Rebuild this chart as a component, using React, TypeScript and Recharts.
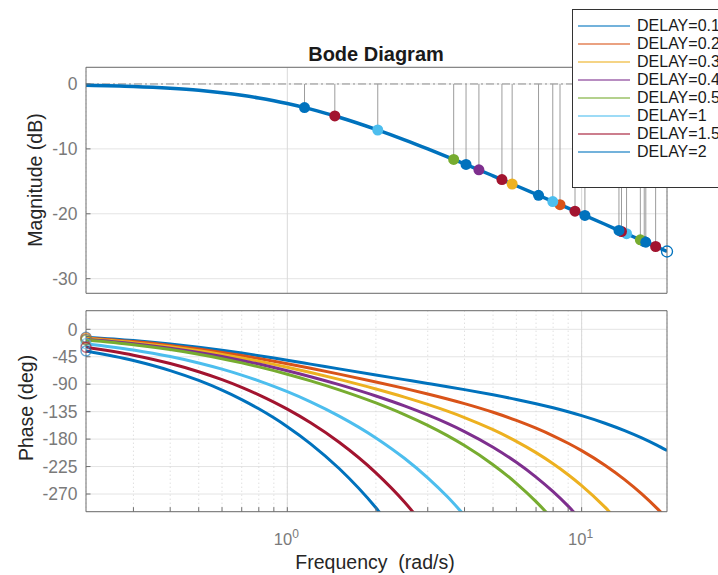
import {
  CartesianGrid,
  ComposedChart,
  ErrorBar,
  Line,
  LineChart,
  ReferenceDot,
  ReferenceLine,
  Scatter,
  XAxis,
  YAxis,
} from "recharts";

const FONT = '"Liberation Sans", Arial, Helvetica, sans-serif';

// frequency grid, rad/s
const freqs = [
  0.207, 0.3, 0.4, 0.5, 0.6, 0.7, 0.8, 0.9, 1, 1.2, 1.5, 2, 2.5, 3, 3.5, 4, 5, 6, 7, 8, 9, 10, 12, 14, 16, 18, 19.5,
];

// magnitude is the same for every delay
const magnitudeDb = [
  -0.18, -0.37, -0.65, -0.97, -1.34, -1.73, -2.15, -2.58, -3.01, -3.87, -5.12, -6.99, -8.6, -10.0, -11.22, -12.3,
  -14.15, -15.68, -16.99, -18.13, -19.14, -20.04, -21.61, -22.95, -24.1, -25.12, -25.81,
];

const delayLabels = [
  "DELAY=0.1", "DELAY=0.2", "DELAY=0.3", "DELAY=0.4", "DELAY=0.5", "DELAY=1", "DELAY=1.5", "DELAY=2",
];
const delayColors = ["#0072BD", "#D95319", "#EDB120", "#7E2F8E", "#77AC30", "#4DBEEE", "#A2142F", "#0072BD"];

// phase (deg); each curve stops once it has left the axes
const phase01 = [
  -12.88, -18.42, -24.09, -29.43, -34.4, -39.0, -43.24, -47.15, -50.73, -57.07, -64.9, -74.89, -82.52, -88.76,
  -94.1, -98.88, -107.34, -114.92, -121.98, -128.71, -135.23, -141.59, -153.99, -166.12, -178.09, -189.95, -198.79,
];
const phase02 = [
  -14.06, -20.14, -26.38, -32.3, -37.84, -43.01, -47.83, -52.3, -56.46, -63.94, -73.5, -86.35, -96.85, -105.95,
  -114.16, -121.8, -135.99, -149.29, -162.08, -174.54, -186.79, -198.88, -222.75, -246.34, -269.77, -293.08, -310.52,
];
const phase03 = [
  -15.25, -21.86, -28.68, -35.16, -41.27, -47.02, -52.41, -57.46, -62.19, -70.82, -82.09, -97.81, -111.17, -123.14,
  -134.21, -144.71, -164.63, -183.67, -202.19, -220.38, -238.36, -256.18, -291.5, -326.55,
];
const phase04 = [
  -16.43, -23.58, -30.97, -38.03, -44.71, -51.03, -57.0, -62.62, -67.92, -77.69, -90.69, -109.27, -125.5, -140.32,
  -154.26, -167.63, -193.28, -218.05, -242.3, -266.22, -289.92, -313.47,
];
const phase05 = [
  -17.62, -25.29, -33.26, -40.89, -48.15, -55.04, -61.58, -67.77, -73.65, -84.57, -99.28, -120.73, -139.82, -157.51,
  -174.32, -190.55, -221.93, -252.43, -282.41, -312.05,
];
const phase1 = [
  -23.55, -33.89, -44.72, -55.22, -65.34, -75.1, -84.5, -93.56, -102.3, -118.94, -142.25, -178.02, -211.44, -243.46,
  -274.59, -305.14,
];
const phase15 = [
  -29.48, -42.48, -56.18, -69.54, -82.53, -95.15, -107.41, -119.34, -130.94, -153.32, -185.23, -235.32, -283.06,
  -329.4,
];
const phase2 = [
  -35.41, -51.08, -67.64, -83.87, -99.71, -115.2, -130.33, -145.12, -159.59, -187.7, -228.2, -292.61, -354.68,
];
const phaseCurves = [phase01, phase02, phase03, phase04, phase05, phase1, phase15, phase2];

// gain-margin points (phase crossing -180, -540, ...) for each delay
const gmFreq01 = [16.32];
const gmMag01 = [-24.27];
const gmFreq02 = [8.443];
const gmMag02 = [-18.59];
const gmFreq03 = [5.806];
const gmMag03 = [-15.41];
const gmFreq04 = [4.477];
const gmMag04 = [-13.23];
const gmFreq05 = [3.675, 15.83];
const gmMag05 = [-11.62, -24.01];
const gmFreq1 = [2.029, 7.979, 14.21];
const gmMag1 = [-7.09, -18.11, -23.07];
const gmFreq15 = [1.45, 5.36, 9.495, 13.66, 17.84];
const gmMag15 = [-4.92, -14.73, -19.6, -22.73, -25.04];
const gmFreq2 = [1.144, 4.048, 7.138, 10.26, 13.39, 16.52];
const gmMag2 = [-3.63, -12.4, -17.16, -20.26, -22.56, -24.38];
const gmFreqs = [gmFreq01, gmFreq02, gmFreq03, gmFreq04, gmFreq05, gmFreq1, gmFreq15, gmFreq2];
const gmMags = [gmMag01, gmMag02, gmMag03, gmMag04, gmMag05, gmMag1, gmMag15, gmMag2];

const xTicks = [0.3, 0.4, 0.5, 0.6, 0.7, 0.8, 0.9, 1, 2, 3, 4, 5, 6, 7, 8, 9, 10];
const magTicks = [0, -10, -20, -30];
const phaseTicks = [0, -45, -90, -135, -180, -225, -270];

const X_DOMAIN: [number, number] = [0.207, 19.5];
const MAG_DOMAIN: [number, number] = [-32.25, 2.57];
const PHASE_DOMAIN: [number, number] = [-299, 30.5];

const magRows = freqs.map((f, i) => ({ f, db: magnitudeDb[i] }));
const phaseRows = freqs.map((f, i) => {
  const row: Record<string, number> = { f };
  phaseCurves.forEach((p, k) => {
    if (i < p.length) row[`p${k}`] = p[i];
  });
  return row;
});
const markerSets = gmFreqs.map((fs, k) =>
  fs.map((f, j) => ({ f, db: gmMags[k][j], stem: [0, -gmMags[k][j]] }))
);

const axisStroke = "#6e6e6e";
const tickFont = { fill: "#7a7a7a", fontSize: 17.5, fontFamily: FONT };

// axes get a 1px band so they still render; the margins below absorb it
const xAxisBase = {
  dataKey: "f",
  type: "number" as const,
  scale: "log" as const,
  domain: X_DOMAIN,
  ticks: xTicks,
  allowDataOverflow: true,
  interval: 0 as const,
  stroke: axisStroke,
  tickSize: -4.5,
  height: 1,
};

const FreqTick = (props: any) => {
  const { x, y, payload } = props;
  const v = payload?.value;
  if (v !== 1 && v !== 10) return <g />;
  return (
    <text x={x - 1} y={y + 38} textAnchor="middle" fill="#7a7a7a" fontSize={16.5} fontFamily={FONT}>
      10
      <tspan dy={-7} fontSize={12}>
        {v === 1 ? "0" : "1"}
      </tspan>
    </text>
  );
};

export default function App() {
  return (
    <div
      style={{
        position: "absolute",
        left: 0,
        top: 0,
        width: 718,
        height: 575,
        overflow: "hidden",
        background: "#fff",
        fontFamily: FONT,
      }}
    >
      {/* magnitude */}
      <div style={{ position: "absolute", left: 0, top: 0 }}>
        <ComposedChart width={718} height={300} data={magRows} margin={{ top: 66.3, right: 50, bottom: 5.7, left: 85 }}>
          <CartesianGrid vertical={false} stroke="#e4e4e4" />
          <CartesianGrid horizontal={false} stroke="#d2d2d2" strokeDasharray="1 3" />
          <ReferenceLine x={1} stroke="#d9d9d9" />
          <ReferenceLine x={10} stroke="#d9d9d9" />
          <ReferenceLine y={0} stroke="#8f8f8f" strokeDasharray="8 3 2 3" />
          <XAxis {...xAxisBase} tick={false} />
          <XAxis {...xAxisBase} xAxisId="top" orientation="top" tick={false} />
          <YAxis
            domain={MAG_DOMAIN}
            ticks={magTicks}
            allowDataOverflow
            interval={0}
            width={1}
            stroke={axisStroke}
            tickSize={-4.5}
            tickMargin={13}
            tick={tickFont}
          />
          <YAxis
            yAxisId="right"
            orientation="right"
            domain={MAG_DOMAIN}
            ticks={magTicks}
            allowDataOverflow
            interval={0}
            width={1}
            stroke={axisStroke}
            tickSize={-4.5}
            tick={false}
          />
          <Line
            dataKey="db"
            type="monotone"
            stroke="#0072BD"
            strokeWidth={3.5}
            dot={false}
            activeDot={false}
            isAnimationActive={false}
          />
          {markerSets.map((set, k) => (
            <Scatter
              key={delayLabels[k]}
              data={set}
              dataKey="db"
              isAnimationActive={false}
              shape={(p: any) => <circle cx={p.cx} cy={p.cy} r={5.5} fill={delayColors[k]} />}
            >
              <ErrorBar dataKey="stem" direction="y" width={0} stroke="#9c9c9c" strokeWidth={1} />
            </Scatter>
          ))}
          <ReferenceDot
            x={freqs[freqs.length - 1]}
            y={magnitudeDb[magnitudeDb.length - 1]}
            r={5.5}
            fill="none"
            stroke="#0072BD"
            strokeWidth={1.3}
          />
        </ComposedChart>
      </div>

      {/* phase */}
      <div style={{ position: "absolute", left: 0, top: 300 }}>
        <LineChart width={718} height={275} data={phaseRows} margin={{ top: 9.7, right: 50, bottom: 62.3, left: 85 }}>
          <CartesianGrid vertical={false} stroke="#e4e4e4" />
          <CartesianGrid horizontal={false} stroke="#d2d2d2" strokeDasharray="1 3" />
          <ReferenceLine x={1} stroke="#d9d9d9" />
          <ReferenceLine x={10} stroke="#d9d9d9" />
          <XAxis {...xAxisBase} tickMargin={0} tick={FreqTick} />
          <XAxis {...xAxisBase} xAxisId="top" orientation="top" tick={false} />
          <YAxis
            domain={PHASE_DOMAIN}
            ticks={phaseTicks}
            allowDataOverflow
            interval={0}
            width={1}
            stroke={axisStroke}
            tickSize={-4.5}
            tickMargin={13}
            tick={tickFont}
          />
          <YAxis
            yAxisId="right"
            orientation="right"
            domain={PHASE_DOMAIN}
            ticks={phaseTicks}
            allowDataOverflow
            interval={0}
            width={1}
            stroke={axisStroke}
            tickSize={-4.5}
            tick={false}
          />
          {phaseCurves.map((_, k) => (
            <Line
              key={delayLabels[k]}
              dataKey={`p${k}`}
              type="monotone"
              stroke={delayColors[k]}
              strokeWidth={3}
              dot={false}
              activeDot={false}
              isAnimationActive={false}
            />
          ))}
          {phaseCurves.map((p, k) => (
            <ReferenceDot
              key={`start-${k}`}
              x={freqs[0]}
              y={p[0]}
              r={5}
              fill="none"
              stroke={delayColors[k]}
              strokeOpacity={0.6}
              strokeWidth={1.4}
            />
          ))}
        </LineChart>
      </div>

      {/* titles */}
      <svg width={718} height={575} style={{ position: "absolute", left: 0, top: 0, pointerEvents: "none" }}>
        <text x={376} y={61} textAnchor="middle" fontSize={20} fontWeight="bold" fill="#1a1a1a" fontFamily={FONT}>
          Bode Diagram
        </text>
        <text
          transform="translate(35,180) rotate(-90)"
          textAnchor="middle"
          dominantBaseline="central"
          fontSize={19.5}
          fill="#262626"
          fontFamily={FONT}
        >
          Magnitude (dB)
        </text>
        <text
          transform="translate(26,408) rotate(-90)"
          textAnchor="middle"
          dominantBaseline="central"
          fontSize={19.5}
          fill="#262626"
          fontFamily={FONT}
        >
          Phase (deg)
        </text>
        <text
          x={375}
          y={569}
          textAnchor="middle"
          fontSize={19.5}
          fill="#262626"
          fontFamily={FONT}
          style={{ whiteSpace: "pre" }}
        >
          {"Frequency  (rad/s)"}
        </text>
      </svg>

      {/* legend */}
      <div
        style={{
          position: "absolute",
          left: 572,
          top: 9,
          width: 170,
          height: 179,
          border: "1px solid #333",
          background: "#fff",
          paddingTop: 7,
          boxSizing: "border-box",
        }}
      >
        {delayLabels.map((label, k) => (
          <div key={label} style={{ display: "flex", alignItems: "center", height: 18 }}>
            <div
              style={{
                marginLeft: 5,
                width: 52,
                height: 1.5,
                background: delayColors[k],
                opacity: 0.55,
              }}
            />
            <span style={{ marginLeft: 7, fontSize: 16, color: "#1a1a1a", lineHeight: "18px" }}>{label}</span>
          </div>
        ))}
      </div>
    </div>
  );
}
